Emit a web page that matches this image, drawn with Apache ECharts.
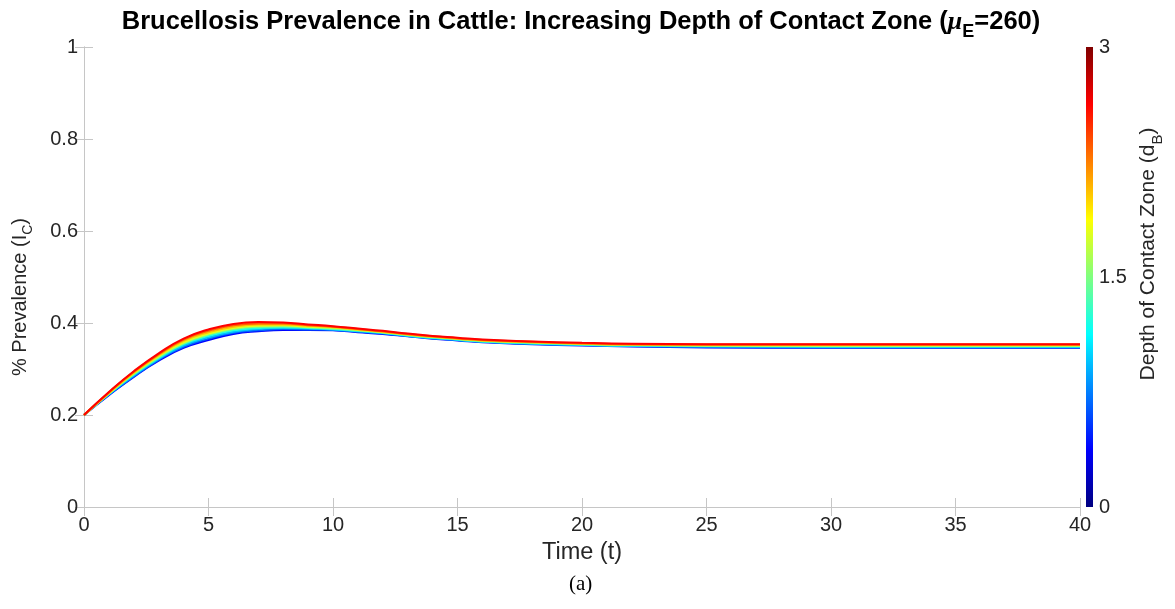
<!DOCTYPE html>
<html>
<head>
<meta charset="utf-8">
<script src="https://cdn.jsdelivr.net/npm/echarts@6/dist/echarts.min.js"></script>
<style>html,body{margin:0;padding:0;background:#fff;}#c{width:1175px;height:609px;}</style>
</head>
<body>
<div id="c"></div>
<script>
var times = [0,1,2,3,4,5,6,7,8,9,10,11,12,13,14,15,16,18,20,22,25,30,35,40];
var depths = [0.375,0.656,0.9375,1.219,1.5,1.781,2.0625,2.344,2.625];
var curveA = [0.200,0.243,0.283,0.318,0.346,0.363,0.376,0.382,0.385,0.385,0.384,0.380,0.376,0.371,0.366,0.362,0.358,0.354,0.351,0.349,0.347,0.346,0.346,0.346];
var curveB = [0.200,0.244,0.284,0.320,0.348,0.366,0.379,0.384,0.387,0.386,0.385,0.381,0.377,0.372,0.367,0.363,0.359,0.355,0.352,0.350,0.348,0.347,0.347,0.347];
var curveC = [0.200,0.245,0.286,0.322,0.351,0.369,0.381,0.387,0.389,0.388,0.386,0.382,0.378,0.372,0.367,0.363,0.359,0.355,0.352,0.350,0.349,0.348,0.348,0.348];
var curveD = [0.200,0.246,0.288,0.324,0.354,0.372,0.384,0.389,0.391,0.389,0.387,0.383,0.379,0.373,0.368,0.364,0.360,0.356,0.353,0.351,0.350,0.349,0.349,0.349];
var curveE = [0.200,0.247,0.289,0.326,0.356,0.375,0.387,0.392,0.393,0.391,0.388,0.384,0.380,0.374,0.369,0.365,0.361,0.357,0.354,0.352,0.351,0.350,0.350,0.350];
var curveF = [0.200,0.247,0.291,0.328,0.358,0.377,0.389,0.394,0.395,0.392,0.390,0.385,0.380,0.375,0.370,0.366,0.362,0.358,0.355,0.353,0.351,0.351,0.351,0.351];
var curveG = [0.200,0.248,0.292,0.330,0.361,0.380,0.392,0.397,0.397,0.394,0.391,0.386,0.381,0.375,0.370,0.366,0.362,0.358,0.355,0.353,0.352,0.352,0.352,0.352];
var curveH = [0.200,0.249,0.294,0.332,0.364,0.383,0.395,0.399,0.399,0.395,0.392,0.387,0.382,0.376,0.371,0.367,0.363,0.359,0.356,0.354,0.353,0.353,0.353,0.353];
var curveI = [0.200,0.250,0.295,0.334,0.366,0.386,0.398,0.402,0.401,0.397,0.393,0.388,0.383,0.377,0.372,0.368,0.364,0.360,0.357,0.355,0.354,0.354,0.354,0.354];
var curves = [curveA,curveB,curveC,curveD,curveE,curveF,curveG,curveH,curveI];
var xTicks = [0,5,10,15,20,25,30,35,40];
var yTicks = [0,0.2,0.4,0.6,0.8,1];
var cbTicks = [0,1.5,3];

function jet(v){
  function c(x){return Math.max(0,Math.min(1,x));}
  var r=c(1.5-Math.abs(4*v-3)), g=c(1.5-Math.abs(4*v-2)), b=c(1.5-Math.abs(4*v-1));
  return 'rgb('+Math.round(r*255)+','+Math.round(g*255)+','+Math.round(b*255)+')';
}
var FONT = 'Liberation Sans';
var tickColor = '#262626';
var boxColor = '#c6c6c6';

var series = curves.map(function(vals, i){
  return {
    type:'line', xAxisIndex:0, yAxisIndex:0,
    data: times.map(function(t,j){return [t, vals[j]];}),
    showSymbol:false, smooth:0.5,
    lineStyle:{width:2, color: jet(depths[i]/3)},
    silent:true, animation:false
  };
});
series.push({
  type:'bar', xAxisIndex:2, yAxisIndex:2, data:[cbTicks[cbTicks.length-1]],
  barWidth:'100%', silent:true, animation:false,
  itemStyle:{color:new echarts.graphic.LinearGradient(0,1,0,0,[
    {offset:0,color:'rgb(0,0,128)'},{offset:0.125,color:'rgb(0,0,255)'},
    {offset:0.375,color:'rgb(0,255,255)'},{offset:0.625,color:'rgb(255,255,0)'},
    {offset:0.875,color:'rgb(255,0,0)'},{offset:1,color:'rgb(128,0,0)'}])}
});

function subRich(fs){
  return {
    n:{fontFamily:FONT,fontSize:fs,color:tickColor,lineHeight:fs+2,verticalAlign:'top'},
    s:{fontFamily:FONT,fontSize:Math.round(fs*0.7),color:tickColor,lineHeight:Math.round(fs*0.7),padding:[Math.round(fs*0.55),0,0,0],verticalAlign:'top'}
  };
}

var option = {
  backgroundColor:'#fff',
  animation:false,
  title:{
    text:'{n|Brucellosis Prevalence in Cattle: Increasing Depth of Contact Zone (}{m|μ}{s|E}{n|=260)}',
    left:576, top:4, textAlign:'center',
    textStyle:{rich:{
      n:{fontFamily:FONT,fontWeight:'bold',fontSize:25.5,color:'#000',lineHeight:27,verticalAlign:'top'},
      m:{fontFamily:'Liberation Serif',fontStyle:'italic',fontSize:26,color:'#000',lineHeight:27,verticalAlign:'top'},
      s:{fontFamily:FONT,fontWeight:'bold',fontSize:18,color:'#000',lineHeight:18,padding:[14,0,0,0],verticalAlign:'top'}
    }}
  },
  grid:[
    {left:84, right:95, top:47, bottom:102, containLabel:false},
    {left:1086, width:7, top:47, bottom:102, containLabel:false}
  ],
  xAxis:[
    {type:'value', gridIndex:0, min:xTicks[0], max:xTicks[xTicks.length-1], interval:5, position:'bottom',
     name:'Time (t)', nameLocation:'middle', nameGap:34,
     nameTextStyle:{fontFamily:FONT,fontSize:23.5,color:tickColor},
     axisLine:{show:true,lineStyle:{color:boxColor,width:1}},
     axisTick:{show:true,inside:true,length:9,lineStyle:{color:boxColor}},
     axisLabel:{fontFamily:FONT,fontSize:20,color:tickColor,margin:8},
     splitLine:{show:false}},
    {type:'value', gridIndex:0, min:xTicks[0], max:xTicks[xTicks.length-1], interval:5, position:'top',
     axisLine:{show:true,lineStyle:{color:boxColor,width:1}},
     axisTick:{show:true,inside:true,length:9,lineStyle:{color:boxColor}},
     axisLabel:{show:false}, splitLine:{show:false}},
    {type:'category', gridIndex:1, data:['dB'], show:false}
  ],
  yAxis:[
    {type:'value', gridIndex:0, min:yTicks[0], max:yTicks[yTicks.length-1], interval:0.2, position:'left',
     name:'{n|% Prevalence (I}{s|C}{n|)}', nameLocation:'middle', nameGap:52,
     nameTextStyle:{rich:subRich(20), padding:[0,40,0,0]},
     axisLine:{show:true,lineStyle:{color:boxColor,width:1}},
     axisTick:{show:true,inside:true,length:9,lineStyle:{color:boxColor}},
     axisLabel:{fontFamily:FONT,fontSize:20,color:tickColor,margin:6},
     splitLine:{show:false}},
    {type:'value', gridIndex:0, min:yTicks[0], max:yTicks[yTicks.length-1], interval:0.2, position:'right',
     axisLine:{show:true,lineStyle:{color:boxColor,width:1}},
     axisTick:{show:true,inside:true,length:9,lineStyle:{color:boxColor}},
     axisLabel:{show:false}, splitLine:{show:false}},
    {type:'value', gridIndex:1, min:cbTicks[0], max:cbTicks[cbTicks.length-1], interval:1.5, position:'right',
     name:'{n|Depth of Contact Zone (d}{s|B}{n|)}', nameLocation:'middle', nameGap:45,
     nameTextStyle:{rich:subRich(21), padding:[0,0,0,46]},
     axisLine:{show:false}, axisTick:{show:false},
     axisLabel:{fontFamily:FONT,fontSize:20,color:tickColor,margin:6},
     splitLine:{show:false}}
  ],
  graphic:[{type:'text', left:569, top:574, style:{text:'(a)', font:'21px "Liberation Serif"', fill:'#000'}}],
  series:series
};
var chart = echarts.init(document.getElementById('c'), null, {renderer:'canvas'});
chart.setOption(option);
</script>
</body>
</html>
